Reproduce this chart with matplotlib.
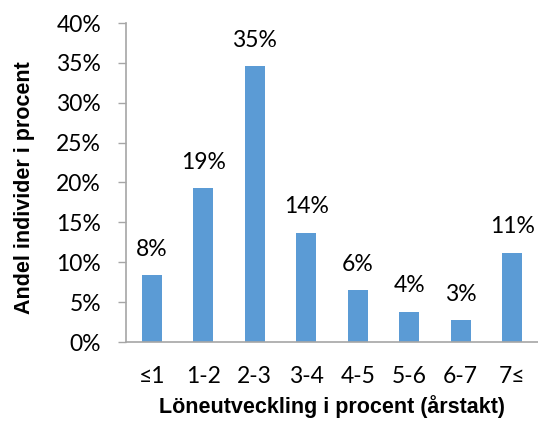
import matplotlib
matplotlib.use("Agg")
import matplotlib.pyplot as plt
from matplotlib.ticker import FuncFormatter

categories = ["≤1", "1-2", "2-3", "3-4", "4-5", "5-6", "6-7", "7≤"]
shares = [8.4, 19.3, 34.6, 13.7, 6.5, 3.8, 2.7, 11.2]
yticks = [0, 5, 10, 15, 20, 25, 30, 35, 40]

bar_color = "#5B9BD5"
axis_color = "#A6A6A6"
num_font = ["Lato", "DejaVu Sans"]
title_font = ["Liberation Sans", "DejaVu Sans"]

fig = plt.figure(figsize=(5.38, 4.23), dpi=100)
ax = fig.add_axes([126 / 538, (423 - 342) / 423, (538 - 126) / 538, (342 - 23) / 423])

x = range(len(categories))
bars = ax.bar(x, shares, width=0.39, color=bar_color, zorder=2)

for xi, v in zip(x, shares):
    ax.annotate(f"{v:.0f}%", (xi, v), xytext=(0, 11), textcoords="offset points",
                ha="center", va="bottom", fontsize=16.5, family=num_font, color="#000000")

ax.set_xlim(-0.5, len(categories) - 0.5)
ax.set_ylim(0, 40)
ax.set_yticks(yticks)
ax.yaxis.set_major_formatter(FuncFormatter(lambda v, p: f"{v:.0f}%"))
ax.set_xticks(list(x))
ax.set_xticklabels(categories)

for lab in ax.get_yticklabels() + ax.get_xticklabels():
    lab.set_family(num_font)
    lab.set_fontsize(16.5)

ax.tick_params(axis="y", length=6, width=1, color=axis_color, pad=12)
ax.tick_params(axis="x", length=0, pad=17)

for side in ("top", "right"):
    ax.spines[side].set_visible(False)
for side in ("left", "bottom"):
    ax.spines[side].set_color(axis_color)
    ax.spines[side].set_linewidth(1.2)

ax.set_xlabel("Löneutveckling i procent (årstakt)", family=title_font,
              fontweight="bold", fontsize=15.5, labelpad=6)
ax.set_ylabel("Andel individer i procent", family=title_font,
              fontweight="bold", fontsize=15.5)
ax.yaxis.set_label_coords(-0.222, 0.485)

fig.savefig("out.png", dpi=100)
